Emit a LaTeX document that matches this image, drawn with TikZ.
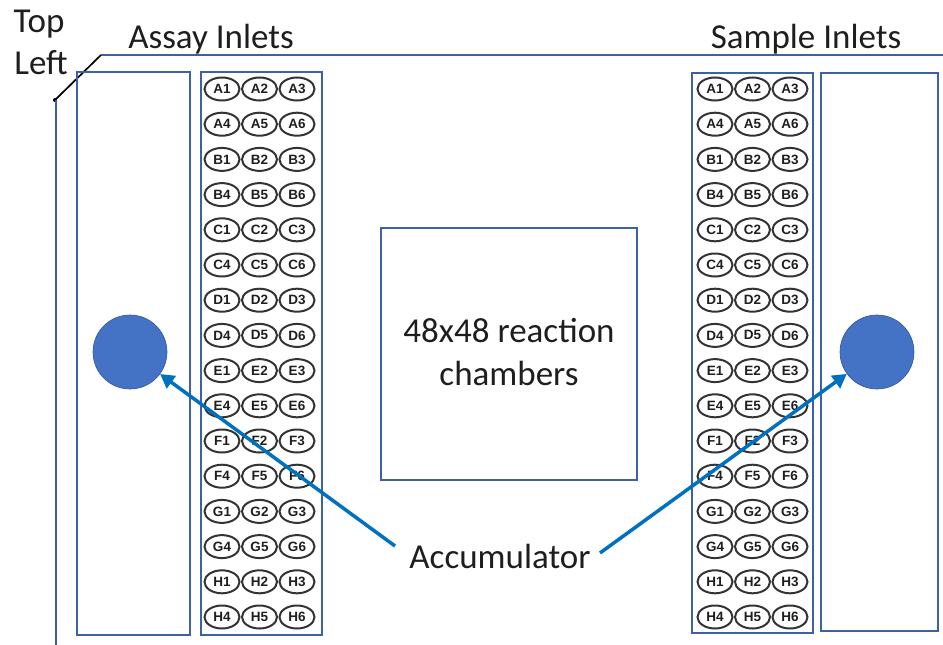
\documentclass[tikz,border=0pt]{standalone}
\usepackage{fontspec}
\setmainfont{Carlito}
\newfontfamily\wellfont{Liberation Sans}
\usetikzlibrary{arrows.meta,shapes.geometric}
\definecolor{chipblue}{RGB}{62,96,164}
\definecolor{portblue}{RGB}{68,114,196}
\definecolor{portedge}{RGB}{50,86,150}
\definecolor{arrowblue}{RGB}{0,112,192}
\definecolor{inktext}{RGB}{30,30,30}
\tikzset{
  chipline/.style={draw=chipblue, line width=1.7pt},
  well/.style={ellipse, draw=black!80, line width=2pt, minimum width=35pt,
    minimum height=23pt, inner sep=0pt, text=inktext,
    font=\wellfont\bfseries\fontsize{13.5}{14}\selectfont},
  port/.style={circle, fill=portblue, draw=portedge, line width=0.6pt, minimum size=74pt, inner sep=0pt},
  label/.style={font=\fontsize{35}{37}\selectfont, text=inktext, inner sep=0pt, anchor=base},
  pointer/.style={draw=arrowblue, line width=3.5pt, -{Triangle[width=15pt,length=14pt]}}
}
\begin{document}
\begin{tikzpicture}[x=1pt, y=-1pt]
\useasboundingbox (0,0) rectangle (943,645);

% chip outline with the cut corner
\coordinate (cornerA) at (943,55);
\coordinate (cornerB) at (101,55);
\coordinate (cornerC) at (55,100);
\coordinate (cornerD) at (56,645);
\draw[chipline] (cornerA) -- (cornerB);
\draw[black, line width=1.7pt] (cornerB) -- (cornerC);
\fill[black] (cornerC) circle (2pt);
\draw[chipline] (56,100) -- (cornerD);

% corner and side labels
\node[label] (top) at (39,32) {Top};
\node[label] (left) at (41,74) {Left};
\node[label] (assay) at (211,48) {Assay Inlets};
\node[label] (sample) at (806,48) {Sample Inlets};

% inlet channels
\draw[chipline] (77,72) rectangle (190,635);
\draw[chipline] (821,73) rectangle (938,631);

% well blocks
\draw[chipline] (201,72) rectangle (322,635);
\draw[chipline] (692,73) rectangle (813,633);

% wells A1..H6 on both sides
\foreach \L [count=\i from 0] in {A,B,C,D,E,F,G,H} {
  \foreach \half in {0,1} {
    \pgfmathsetmacro{\yy}{89+35.2*(2*\i+\half)}
    \foreach \c in {1,2,3} {
      \pgfmathtruncatemacro{\n}{\c+3*\half}
      \node[well] (L-\L\n) at ({222+37.5*(\c-1)},\yy) {\L\n};
      \node[well] (R-\L\n) at ({715+37.5*(\c-1)},\yy) {\L\n};
    }
  }
}

% reaction chamber array
\node[chipline, minimum width=256pt, minimum height=252pt, inner sep=0pt] (chambers) at (509,354) {};
\node[label] (chtext1) at (509,342) {48x48 reaction};
\node[label] (chtext2) at (509,385) {chambers};

% accumulators
\node[port] (accL) at (130,352) {};
\node[port] (accR) at (877,352) {};

% pointer label and arrows
\node[label] (acc) at (500,568) {Accumulator};
\coordinate (accStartL) at (395,546);
\coordinate (accStartR) at (600,553);
\draw[pointer] (accStartL) -- (accL);
\draw[pointer] (accStartR) -- (accR);
\end{tikzpicture}
\end{document}
